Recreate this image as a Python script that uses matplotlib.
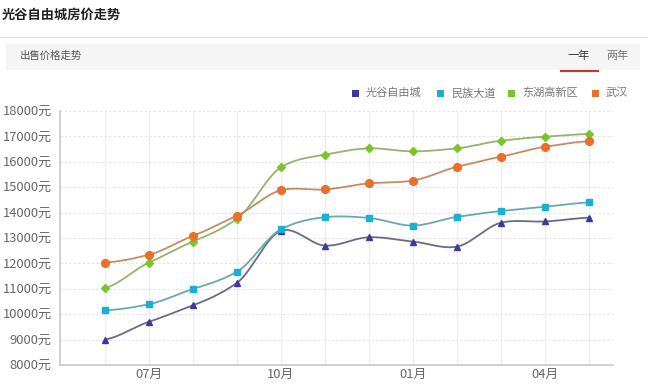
import numpy as np
import matplotlib
matplotlib.use("Agg")
import matplotlib.pyplot as plt
from matplotlib.patches import Rectangle
from matplotlib.lines import Line2D

plt.rcParams["font.family"] = ["Noto Sans CJK SC", "DejaVu Sans"]

# ---- 数据 ----
months = ["06月", "07月", "08月", "09月", "10月", "11月", "12月",
          "01月", "02月", "03月", "04月", "05月"]
shown_ticks = ["07月", "10月", "01月", "04月"]
guanggu = [9000, 9700, 10350, 11230, 13280, 12700, 13030, 12860, 12660, 13600, 13650, 13800]
minzu = [10150, 10390, 10990, 11670, 13340, 13820, 13790, 13490, 13830, 14060, 14230, 14400]
donghu = [11030, 12030, 12860, 13750, 15780, 16280, 16530, 16410, 16530, 16830, 16990, 17100]
wuhan = [12030, 12340, 13080, 13880, 14880, 14910, 15150, 15260, 15800, 16200, 16590, 16810]
series_names = ["光谷自由城", "民族大道", "东湖高新区", "武汉"]

COL = ["#3d3a9a", "#1ab0d6", "#7cc526", "#e8702a"]
LINE = ["#6b6a88", "#6aa8b0", "#94b46e", "#c98a62"]
MK = ["^", "s", "D", "o"]
MS = [5, 5, 3.6, 5.6]


def smooth(x, y, n=24, k=0.42):
    # 简易 Catmull-Rom 平滑
    x = np.asarray(x, float)
    y = np.asarray(y, float)
    px, py = [], []
    m = len(x)
    for i in range(m - 1):
        y0 = y[i - 1] if i > 0 else y[i]
        y3 = y[i + 2] if i + 2 < m else y[i + 1]
        t0 = (y[i + 1] - y0) * k
        t1 = (y3 - y[i]) * k
        t = np.linspace(0, 1, n)
        h00 = 2 * t**3 - 3 * t**2 + 1
        h10 = t**3 - 2 * t**2 + t
        h01 = -2 * t**3 + 3 * t**2
        h11 = t**3 - t**2
        px.extend(x[i] + t * (x[i + 1] - x[i]))
        py.extend(h00 * y[i] + h10 * t0 + h01 * y[i + 1] + h11 * t1)
    return np.array(px), np.array(py)


fig = plt.figure(figsize=(6.48, 3.86), dpi=100)
W, H = 648, 386

# ---- 顶部标题与标签栏 ----
fig.text(2 / W, 1 - 15 / H, "光谷自由城房价走势", fontsize=9.5, fontweight="bold",
         color="#222222", va="center", ha="left")
fig.add_artist(Line2D([0, 1], [1 - 37 / H, 1 - 37 / H], color="#e6e6e6", lw=1))
fig.add_artist(Rectangle((6 / W, 1 - 70 / H), 634 / W, 27 / H, facecolor="#f5f5f5",
                         edgecolor="none", transform=fig.transFigure))
fig.text(20 / W, 1 - 56 / H, "出售价格走势", fontsize=7.5, color="#555555", va="center")
fig.text(579 / W, 1 - 56 / H, "一年", fontsize=8, color="#333333", va="center", ha="center")
fig.text(617 / W, 1 - 56 / H, "两年", fontsize=8, color="#777777", va="center", ha="center")
fig.add_artist(Line2D([561 / W, 598 / W], [1 - 71 / H, 1 - 71 / H], color="#c0392b", lw=1.5))

# ---- 主图 ----
ax = fig.add_axes([60 / W, 21 / H, 553 / W, 254 / H])
x = np.arange(len(months))
for vals, c, lc, mk, ms in zip([guanggu, minzu, donghu, wuhan], COL, LINE, MK, MS):
    sx, sy = smooth(x, vals)
    ax.plot(sx, sy, color=lc, lw=1.3, zorder=3)
    ax.plot(x, vals, linestyle="none", marker=mk, ms=ms, color=c, zorder=4)

ax.set_xlim(-1.02, 11.55)
ax.set_ylim(8000, 18000)
ax.set_yticks(range(8000, 18001, 1000))
ax.set_yticklabels([f"{v}元" for v in range(8000, 18001, 1000)])
ax.set_xticks([months.index(m) for m in shown_ticks])
ax.set_xticklabels(shown_ticks)
ax.tick_params(axis="both", length=0, labelsize=9.3, colors="#666666", pad=6)
ax.tick_params(axis="x", pad=2)
for v in x:
    ax.axvline(v, color="#ececec", lw=0.8, zorder=0)
for v in range(9000, 18001, 1000):
    ax.axhline(v, color="#e2e2e2", lw=0.8, ls=(0, (2, 2)), zorder=0)
for s in ["top", "right"]:
    ax.spines[s].set_visible(False)
for s in ["left", "bottom"]:
    ax.spines[s].set_color("#c8c8c8")
    ax.spines[s].set_linewidth(1.2)

# ---- 图例 ----
leg_x = [355, 440, 511, 595]
for lx, c, name in zip(leg_x, COL, series_names):
    fig.add_artist(Rectangle(((lx - 3.5) / W, 1 - 96.5 / H), 7 / W, 7 / H,
                             facecolor=c, edgecolor="none", transform=fig.transFigure))
    fig.text((lx + 11) / W, 1 - 93 / H, name, fontsize=8, color="#777777",
             va="center", ha="left")

fig.savefig("out.png", dpi=100, facecolor="white")
